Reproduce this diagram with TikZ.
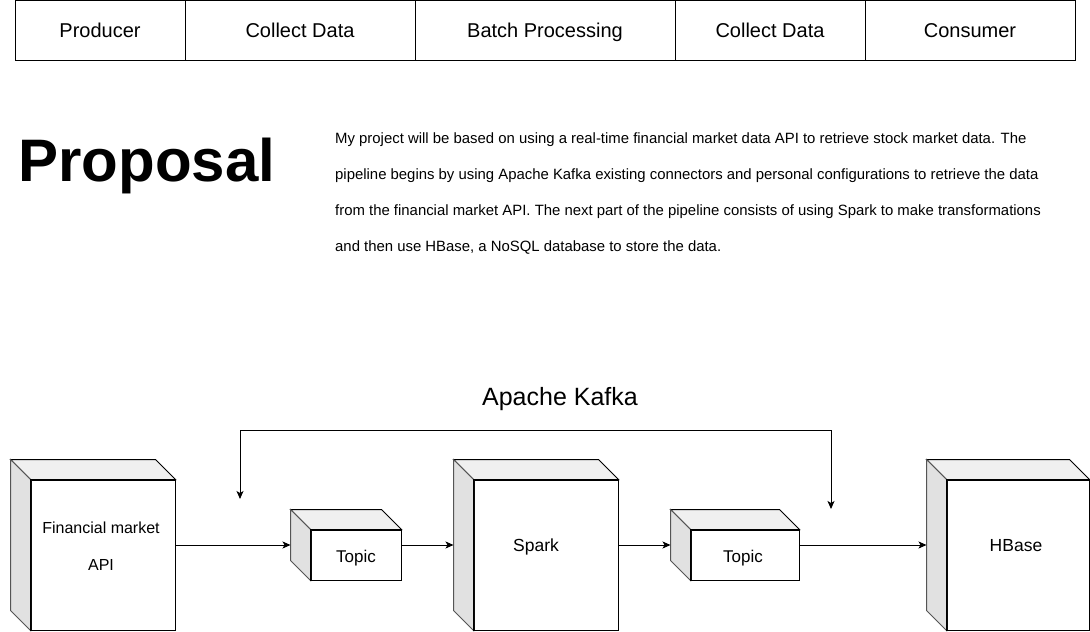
\documentclass[tikz,border=0pt]{standalone}
\usepackage{fontspec}
\setmainfont{Liberation Sans}
\usetikzlibrary{calc,arrows.meta}
\definecolor{topc}{HTML}{F0F0F0}
\definecolor{sidec}{HTML}{E1E1E1}
\definecolor{edgegray}{HTML}{555555}
\tikzset{
  cell/.style={draw=black, line width=1pt, minimum height=60pt, inner sep=0pt},
  celltext/.style={anchor=base, inner sep=0pt, font=\fontsize{20}{24}\selectfont},
  front/.style={draw=black, fill=white, line width=1pt, inner sep=0pt},
  topface/.style={draw=black, fill=topc, line width=1pt, line join=miter},
  sideface/.style={draw=edgegray, fill=sidec, line width=1pt, line join=miter},
  lbl/.style={inner sep=0pt, align=center, anchor=base},
  para/.style={anchor=base west, inner sep=0pt, font=\fontsize{14.9}{18}\selectfont},
  tip/.tip={Stealth[length=8pt,width=7pt,inset=2pt]},
  conn/.style={draw=black, line width=1pt, -tip},
}
\newcommand\cubefaces[1]{%
  \draw[topface] (#1.north west) -- ($(#1.north west)+(-20,-20)$) -- ($(#1.north east)+(-20,-20)$) -- (#1.north east) -- cycle;
  \draw[sideface] (#1.north west) -- ($(#1.north west)+(-20,-20)$) -- ($(#1.south west)+(-20,-20)$) -- (#1.south west) -- cycle;
  \draw[line width=1pt] (#1.north west) rectangle (#1.south east);
}
\begin{document}
\begin{tikzpicture}[x=1pt,y=-1pt]
\useasboundingbox[fill=white] (0,0) rectangle (1090,632);
% header row
\node[cell, minimum width=170pt] (c1) at (100,30.5) {};
\node[cell, minimum width=230pt] (c2) at (300,30.5) {};
\node[cell, minimum width=260pt] (c3) at (545,30.5) {};
\node[cell, minimum width=190pt] (c4) at (770,30.5) {};
\node[cell, minimum width=210pt] (c5) at (970,30.5) {};
\node[celltext] (c1t) at (100,37) {Producer};
\node[celltext] (c2t) at (300,37) {Collect Data};
\node[celltext] (c3t) at (545,37) {Batch Processing};
\node[celltext] (c4t) at (770,37) {Collect Data};
\node[celltext] (c5t) at (970,37) {Consumer};
% title
\node[lbl, font=\fontsize{60}{60}\selectfont\bfseries] (title) at (147,181) {Proposal};
\node[para] (p1) at (335,143) {My project will be based on using a real-time financial market data API to retrieve stock market data. The};
\node[para] (p2) at (335,179) {pipeline begins by using Apache Kafka existing connectors and personal configurations to retrieve the data};
\node[para] (p3) at (335,215) {from the financial market API. The next part of the pipeline consists of using Spark to make transformations};
\node[para] (p4) at (335,251) {and then use HBase, a NoSQL database to store the data.};
% kafka label
\node[lbl, font=\fontsize{25}{28}\selectfont] (kafka) at (560,405.5) {Apache Kafka};
% cubes (front faces)
\node[front, minimum width=144pt, minimum height=150pt] (fin) at (103,555) {};
\node[front, minimum width=90pt, minimum height=50pt] (t1) at (356,555) {};
\node[front, minimum width=144pt, minimum height=150pt] (spark) at (546,555) {};
\node[front, minimum width=108pt, minimum height=50pt] (t2) at (745,555) {};
\node[front, minimum width=142pt, minimum height=150pt] (hb) at (1018,555) {};
\cubefaces{fin}
\cubefaces{t1}
\cubefaces{spark}
\cubefaces{t2}
\cubefaces{hb}
\node[lbl, font=\fontsize{16}{36.5}\selectfont] (finlbl) at (101,570) {Financial market\\API};
\node[lbl, font=\fontsize{17}{20}\selectfont] (t1lbl) at (356,562) {Topic};
\node[lbl, font=\fontsize{17.5}{20}\selectfont] (sparklbl) at (536,551.5) {Spark};
\node[lbl, font=\fontsize{17}{20}\selectfont] (t2lbl) at (743,562) {Topic};
\node[lbl, font=\fontsize{17.5}{20}\selectfont] (hblbl) at (1016,551.5) {HBase};
% connectors
\coordinate (k1) at (240,499);
\coordinate (k2) at (831,509);
\draw[conn] (fin.east |- 0,545) -- ($(t1.west |- 0,545)+(-20,0)$);
\draw[conn] (t1.east |- 0,545) -- ($(spark.west |- 0,545)+(-20,0)$);
\draw[conn] (spark.east |- 0,545) -- ($(t2.west |- 0,545)+(-20,0)$);
\draw[conn] (t2.east |- 0,545) -- ($(hb.west |- 0,545)+(-20,0)$);
\draw[draw=black, line width=1pt, tip-tip] (k1) -- (240,430.5) -- (831,430.5) -- (k2);
\end{tikzpicture}
\end{document}
